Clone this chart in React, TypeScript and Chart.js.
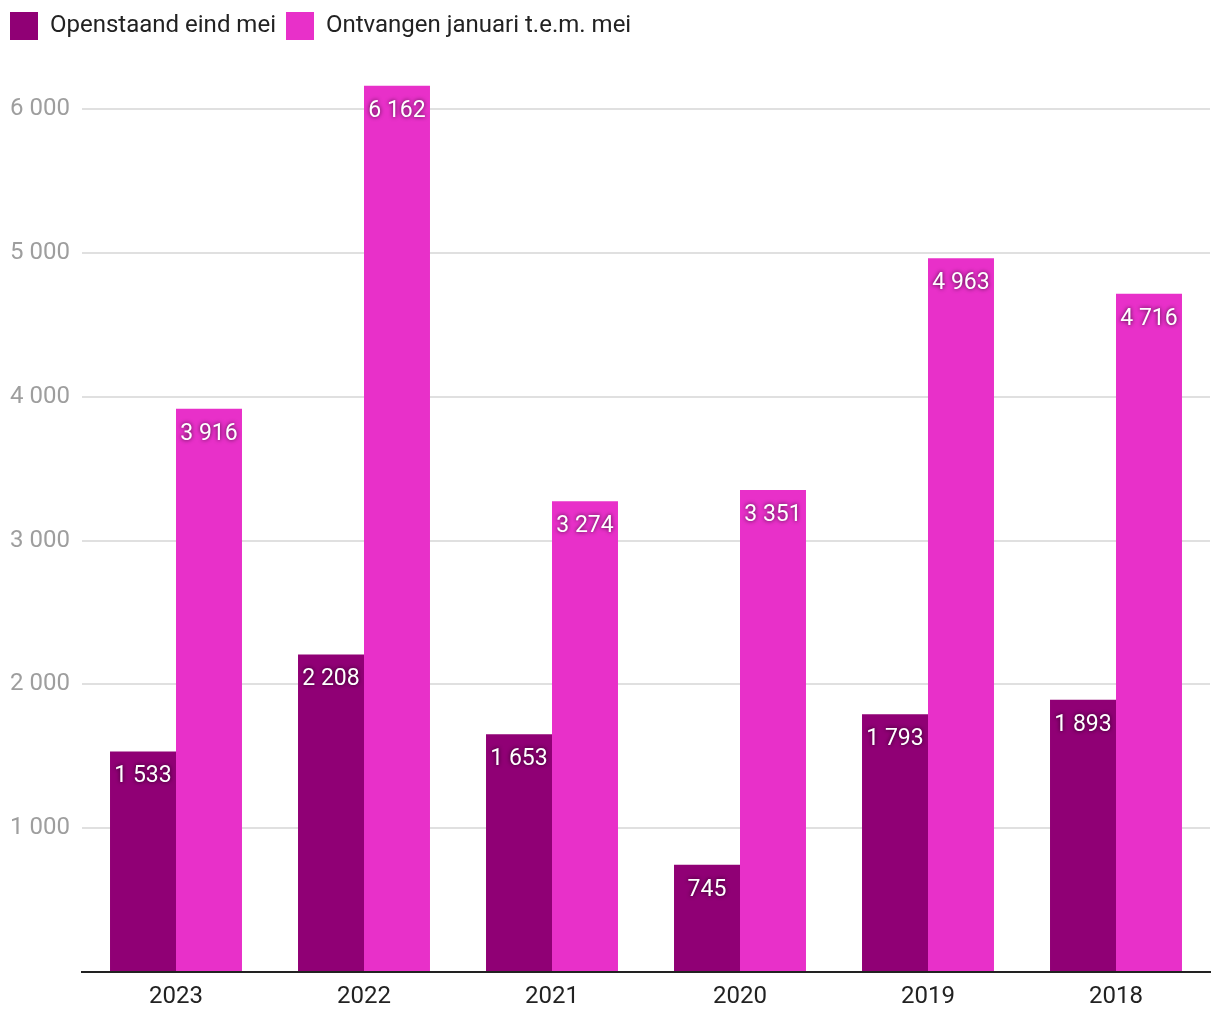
import React, { useEffect, useRef } from "react";
import { Chart, registerables } from "chart.js";

Chart.register(...registerables);

const categories = ["2023", "2022", "2021", "2020", "2019", "2018"];
const openstaand = [1533, 2208, 1653, 745, 1793, 1893];
const ontvangen = [3916, 6162, 3274, 3351, 4963, 4716];
const seriesNames = ["Openstaand eind mei", "Ontvangen januari t.e.m. mei"];
const seriesColors = ["#900075", "#E830C9"];
const yTicks = [1000, 2000, 3000, 4000, 5000, 6000];

const fmt = (v: number) => {
  const s = Math.round(v).toString();
  return s.replace(/\B(?=(\d{3})+(?!\d))/g, " ");
};

const FONT = "Roboto, 'Noto Sans', sans-serif";

const legendFit = {
  id: "legendFit",
  beforeInit(chart: any) {
    const legend = chart.legend;
    if (!legend) return;
    const orig = legend.fit;
    legend.fit = function () {
      orig.call(this);
      this.height = 64;
    };
  },
};

const barLabels = {
  id: "barLabels",
  afterDatasetsDraw(chart: any) {
    const ctx = chart.ctx;
    ctx.save();
    ctx.font = `23px ${FONT}`;
    ctx.fillStyle = "#ffffff";
    ctx.textAlign = "center";
    ctx.textBaseline = "middle";
    ctx.shadowColor = "rgba(0,0,0,0.75)";
    ctx.shadowBlur = 4;
    chart.data.datasets.forEach((ds: any, i: number) => {
      const meta = chart.getDatasetMeta(i);
      meta.data.forEach((bar: any, j: number) => {
        ctx.fillText(fmt(ds.data[j]), bar.x, bar.y + 25);
      });
    });
    ctx.restore();
  },
};

export default function App() {
  const ref = useRef<HTMLCanvasElement>(null);
  useEffect(() => {
    if (!ref.current) return;
    const chart = new Chart(ref.current, {
      type: "bar",
      data: {
        labels: categories,
        datasets: [
          {
            label: seriesNames[0],
            data: openstaand,
            backgroundColor: seriesColors[0],
            categoryPercentage: 0.702,
            barPercentage: 1,
          },
          {
            label: seriesNames[1],
            data: ontvangen,
            backgroundColor: seriesColors[1],
            categoryPercentage: 0.702,
            barPercentage: 1,
          },
        ],
      },
      options: {
        responsive: false,
        animation: false,
        layout: { padding: { left: 0, right: 10, top: 2, bottom: 0 } },
        plugins: {
          legend: {
            display: true,
            position: "top",
            align: "start",
            labels: {
              boxWidth: 28,
              boxHeight: 28,
              padding: 10,
              color: "#222222",
              font: { family: FONT, size: 24 },
            },
          },
          tooltip: { enabled: false },
        },
        scales: {
          x: {
            grid: { display: false, drawTicks: false },
            border: { display: true, color: "#222222", width: 2 },
            ticks: {
              color: "#222222",
              font: { family: FONT, size: 24 },
              padding: 11,
            },
            afterFit(scale: any) {
              scale.height = 48;
            },
          },
          y: {
            min: 0,
            max: 6300,
            afterBuildTicks(scale: any) {
              scale.ticks = [0, ...yTicks].map((v) => ({ value: v }));
            },
            grid: { color: "#e0e0e0", lineWidth: 2, drawTicks: false },
            border: { display: false },
            ticks: {
              color: "#9e9e9e",
              font: { family: FONT, size: 24 },
              padding: 12,
              crossAlign: "near",
              callback: (v: any) => (v === 0 ? "" : fmt(Number(v))),
            },
            afterFit(scale: any) {
              scale.width = 82;
            },
          },
        },
      },
      plugins: [legendFit, barLabels],
    });
    return () => chart.destroy();
  }, []);
  return (
    <div style={{ position: "fixed", left: 0, top: 0, width: 1220, height: 1020, background: "#fff" }}>
      <canvas ref={ref} width={1220} height={1020} style={{ width: 1220, height: 1020 }} />
    </div>
  );
}
